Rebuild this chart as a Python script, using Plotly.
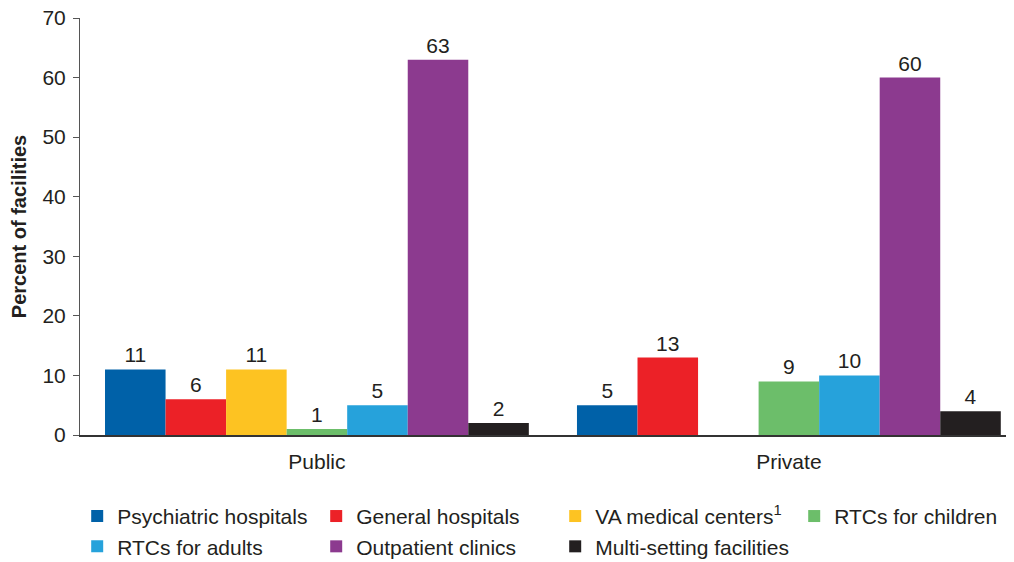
import plotly.graph_objects as go

categories = ["Public", "Private"]
series_names = [
    "Psychiatric hospitals",
    "General hospitals",
    "VA medical centers<sup>1</sup>",
    "RTCs for children",
    "RTCs for adults",
    "Outpatient clinics",
    "Multi-setting facilities",
]
values = [
    [11, 5],
    [6, 13],
    [11, None],
    [1, 9],
    [5, 10],
    [63, 60],
    [2, 4],
]
colors = ["#0061A8", "#EC2127", "#FDC322", "#6CBE6A", "#26A2DB", "#8C3A8F", "#231F20"]

FONT = "Liberation Sans, Arial, sans-serif"
TXT = "#231F20"

fig = go.Figure()
for name, vals, col in zip(series_names, values, colors):
    fig.add_trace(go.Bar(
        name=name, x=categories, y=vals, marker_color=col,
        marker_line_width=0,
        text=[("" if v is None else str(v)) for v in vals],
        textposition="outside", cliponaxis=False,
        textfont=dict(size=21, color=TXT, family=FONT),
    ))

# page body has an 8px margin, so the figure is drawn 8px smaller and offset
fig.update_layout(
    width=1006, height=554,
    margin=dict(l=72, r=0, t=10, b=127, autoexpand=False),
    paper_bgcolor="white", plot_bgcolor="white",
    barmode="group", bargap=0.102, bargroupgap=0,
    font=dict(family=FONT, size=21, color=TXT),
    showlegend=True,
    legend=dict(
        orientation="h", x=-0.003, xanchor="left", y=-0.146, yanchor="top",
        entrywidth=194, entrywidthmode="pixels",
        font=dict(size=21, color=TXT, family=FONT),
        itemwidth=30, tracegroupgap=0,
        traceorder="normal",
    ),
    yaxis=dict(
        range=[0, 70], dtick=10, showgrid=False, zeroline=False,
        showline=True, linecolor="#555555", linewidth=1,
        ticks="outside", ticklen=6, tickcolor="#555555",
        tickfont=dict(size=21, color=TXT), ticklabelstandoff=3,
        ticklabeloverflow="allow",
        automargin=False,
        title=dict(text="<b>Percent of facilities</b>", font=dict(size=20, color=TXT), standoff=12),
    ),
    xaxis=dict(
        range=[-0.502, 1.477],
        showgrid=False, showline=True, linecolor="#333333", linewidth=1.5,
        ticks="", tickfont=dict(size=21, color=TXT), ticklabelstandoff=7,
        ticklabeloverflow="allow",
        automargin=False,
    ),
)

fig.write_html("out.html")
